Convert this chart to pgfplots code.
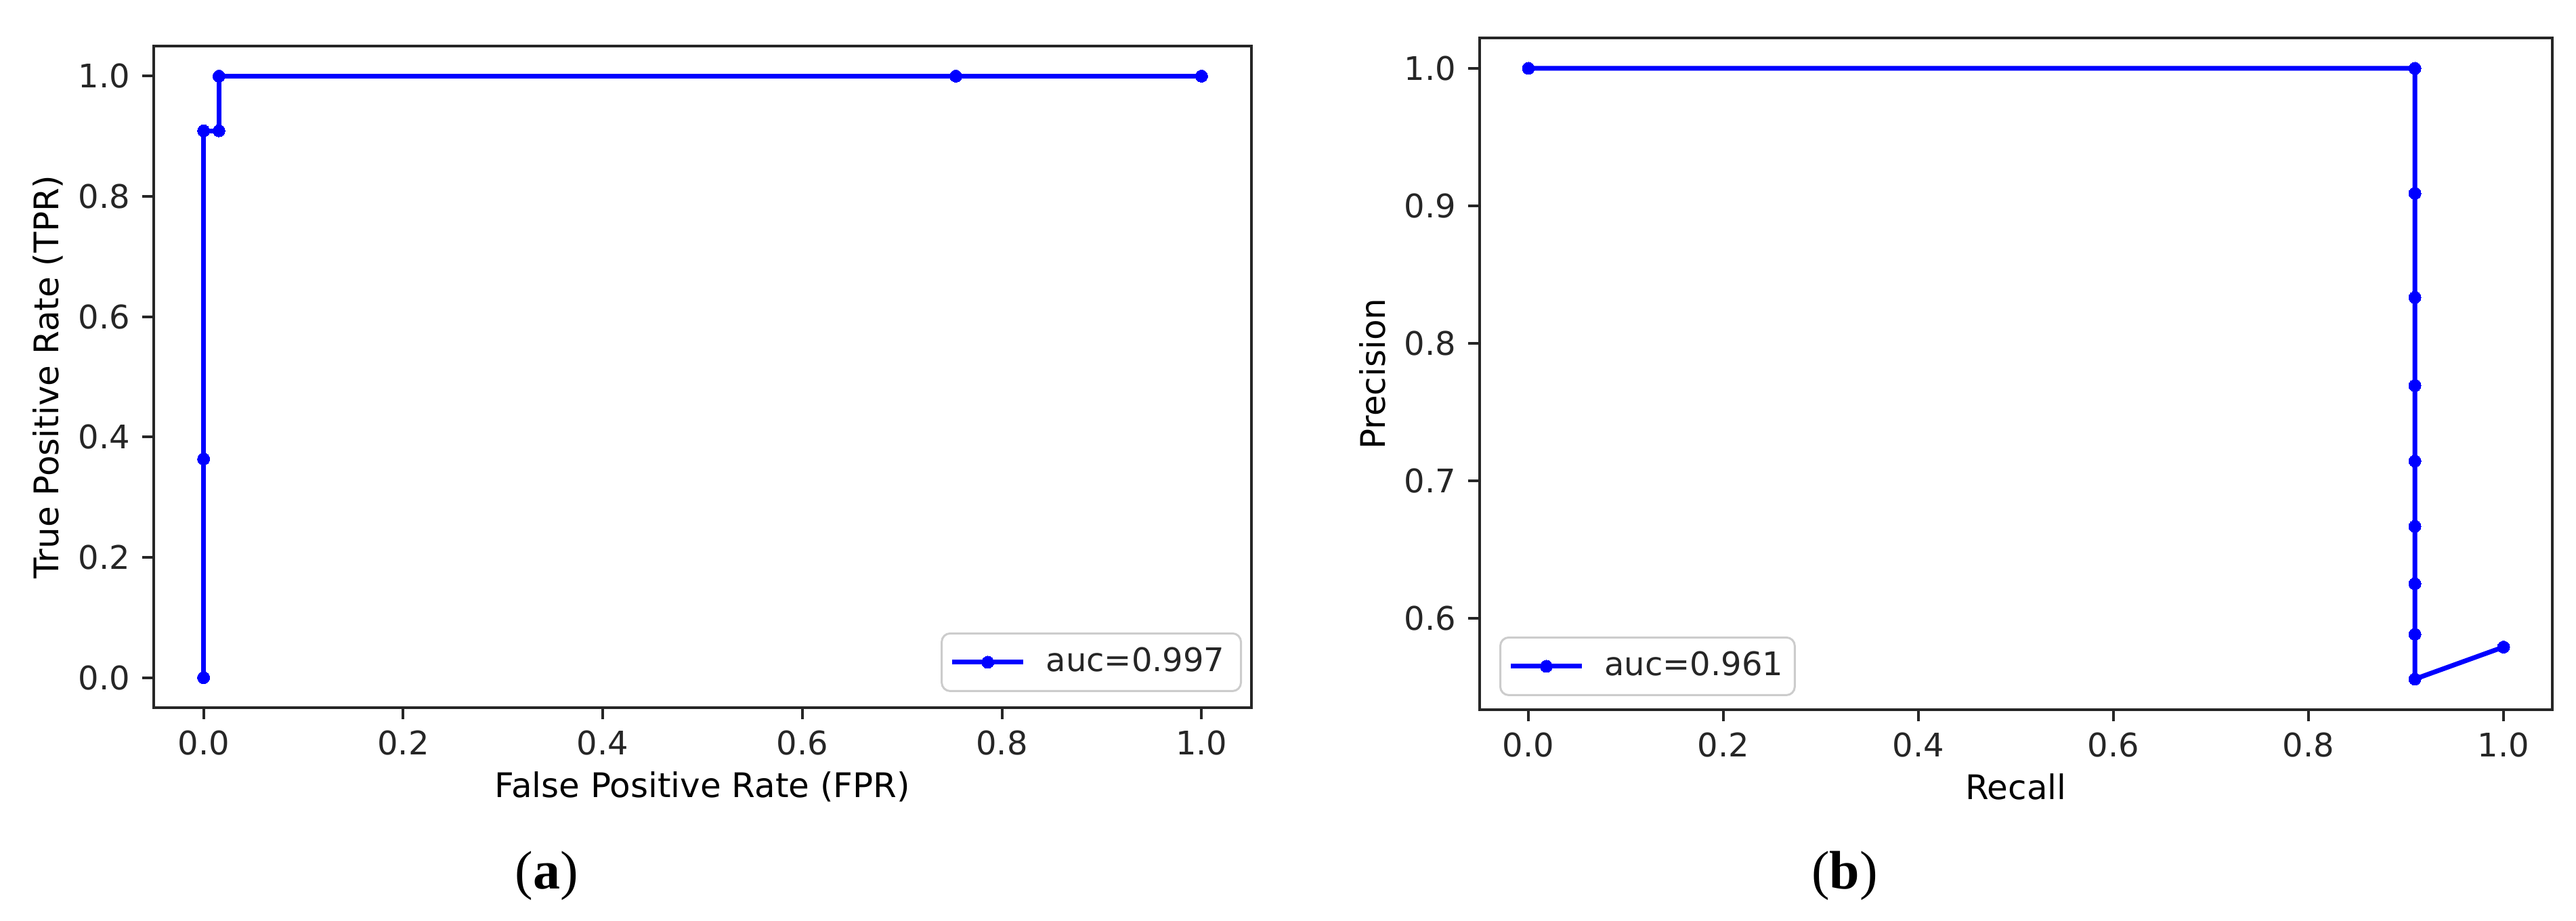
\documentclass[border=0pt]{standalone}
\usepackage{pgfplots}
\pgfplotsset{compat=1.18}
\usepackage{fontspec}
\setmainfont{DejaVu Sans}
\newfontfamily\capfont{Liberation Serif}

\pgfplotsset{
  common/.style={
    scale only axis,
    xmin=-0.05, xmax=1.05,
    xtick={0,0.2,0.4,0.6,0.8,1.0},
    axis line style={black!85, line width=0.8pt},
    tick align=outside,
    tick pos=left,
    major tick length=3.4pt,
    every tick/.style={black!85, line width=0.8pt},
    /pgf/number format/.cd, fixed, fixed zerofill, precision=1, assume math mode=true,
    /pgfplots/.cd,
    ticklabel style={font=\fontsize{9.6}{11.5}\selectfont, text=black!85},
    xticklabel style={anchor=north, inner sep=0pt, yshift=-3.2pt},
    yticklabel style={anchor=east, inner sep=0pt, xshift=-3.4pt},
    label style={font=\fontsize{9.6}{11.5}\selectfont, text=black!85},
    every axis x label/.style={at={(axis description cs:0.5,0)}, yshift=-26.6pt, anchor=base},
    every axis y label/.style={at={(axis description cs:0,0.5)}, xshift=-28pt, rotate=90, anchor=base},
    legend style={draw=black!20, rounded corners=2.5pt, fill=white, line width=0.6pt,
      inner xsep=2.4pt, inner ysep=4.2pt,
      font=\fontsize{9.6}{11.5}\selectfont, text=black!85,
      nodes={inner sep=0pt}},
    legend image code/.code={%
      \draw[#1, mark repeat=2, mark phase=2] plot coordinates {(0pt,0pt) (10.5pt,0pt) (21pt,0pt)};},
    legend cell align=left,
    clip=false,
  },
  curve/.style={blue, line width=1.4pt, mark=*, mark size=1.8pt, mark options={solid, fill=blue, draw=blue, line width=0pt}},
}

\begin{document}
\begin{tikzpicture}
\path[use as bounding box] (0,0) rectangle (760.8pt,272pt);

% (a) ROC
\begin{axis}[common,
  at={(45.4pt,63pt)}, anchor=south west,
  width=324.2pt, height=195.4pt,
  ymin=-0.05, ymax=1.05,
  ytick={0,0.2,0.4,0.6,0.8,1.0},
  xlabel={False Positive Rate (FPR)},
  ylabel={True Positive Rate (TPR)},
  legend style={at={(1,0)}, anchor=south east, xshift=-2.8pt, yshift=4.6pt},
]
\addplot[curve] coordinates {
  (0,0) (0,0.3636) (0,0.9091) (0.0154,0.9091) (0.0154,1.0) (0.7538,1.0) (1.0,1.0)
};
\addlegendentry{\hspace*{6pt}auc=0.997\hspace*{2.4pt}}
\end{axis}

% (b) PR
\begin{axis}[common,
  at={(437pt,62.4pt)}, anchor=south west,
  width=316.8pt, height=198.4pt,
  ymin=0.5333, ymax=1.0222,
  ytick={0.6,0.7,0.8,0.9,1.0},
  xlabel={Recall},
  ylabel={Precision},
  legend style={at={(0,0)}, anchor=south west, xshift=5.8pt, yshift=4pt},
]
\addplot[curve] coordinates {
  (0,1.0) (0.9091,1.0) (0.9091,0.9091) (0.9091,0.8333) (0.9091,0.7692)
  (0.9091,0.7143) (0.9091,0.6667) (0.9091,0.6250) (0.9091,0.5882)
  (0.9091,0.5556) (1.0,0.5789)
};
\addlegendentry{\hspace*{6pt}auc=0.961\hspace*{1pt}}
\end{axis}

\node[font=\capfont\fontsize{16}{19}\selectfont] at (161.4pt,13.4pt) {(\textbf{a})};
\node[font=\capfont\fontsize{16}{19}\selectfont] at (544.8pt,13.4pt) {(\textbf{b})};
\end{tikzpicture}
\end{document}
